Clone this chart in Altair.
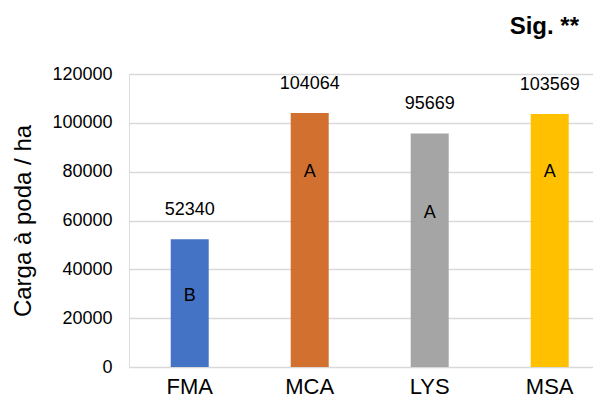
import altair as alt
import pandas as pd

categories = ["FMA", "MCA", "LYS", "MSA"]
values = [52340, 104064, 95669, 103569]
letters = ["B", "A", "A", "A"]
letter_pos = [29000, 80000, 63000, 80000]
colors = ["#4472C4", "#D27030", "#A5A5A5", "#FFC000"]

df = pd.DataFrame({
    "cat": categories,
    "val": values,
    "letter": letters,
    "lpos": letter_pos,
    "label": [str(v) for v in values],
})

FONT = "Liberation Sans"

x = alt.X("cat:N", sort=categories, title=None,
          scale=alt.Scale(paddingInner=0.6833, paddingOuter=0.275, align=0.632),
          axis=alt.Axis(labelFontSize=22, labelFont=FONT, labelColor="#000000",
                        labelAngle=0, ticks=False, domain=False, grid=False,
                        labelPadding=9))

y_scale = alt.Scale(domain=[0, 120000], nice=False)

bars = alt.Chart(df).mark_bar().encode(
    x=x,
    y=alt.Y("val:Q", scale=y_scale, title="Carga à poda / ha",
            axis=alt.Axis(values=[0, 20000, 40000, 60000, 80000, 100000, 120000],
                          format="d", labelFontSize=18, labelFont=FONT,
                          labelColor="#000000", ticks=False, domain=False,
                          gridColor="#D9D9D9", gridWidth=1.5, labelPadding=17,
                          titleFontSize=24, titleFont=FONT, titleFontWeight="normal",
                          titleColor="#000000", titlePadding=16)),
    color=alt.Color("cat:N", sort=categories,
                    scale=alt.Scale(domain=categories, range=colors), legend=None),
)

vlabels = alt.Chart(df).mark_text(fontSize=18, font=FONT, color="#000000",
                                  baseline="middle", dy=-29).encode(
    x=alt.X("cat:N", sort=categories),
    y=alt.Y("val:Q", scale=y_scale),
    text="label:N",
)

lletters = alt.Chart(df).mark_text(fontSize=18, font=FONT, color="#000000",
                                   baseline="middle").encode(
    x=alt.X("cat:N", sort=categories),
    y=alt.Y("lpos:Q", scale=y_scale),
    text="letter:N",
)

sig = alt.Chart(pd.DataFrame({"t": ["Sig. **"]})).mark_text(
    fontSize=24, font=FONT, fontWeight="bold", color="#000000",
    align="right", baseline="alphabetic").encode(
    x=alt.value(450), y=alt.value(-40), text="t:N")

chart = alt.layer(bars, vlabels, lletters, sig).properties(
    width=464, height=293,
    autosize=alt.AutoSizeParams(type="none"),
    padding={"left": 121, "top": 66, "right": 0, "bottom": 30},
).configure_view(stroke=None).configure(background="white")

chart.save("out.html", embed_options={"renderer": "svg", "actions": False})
